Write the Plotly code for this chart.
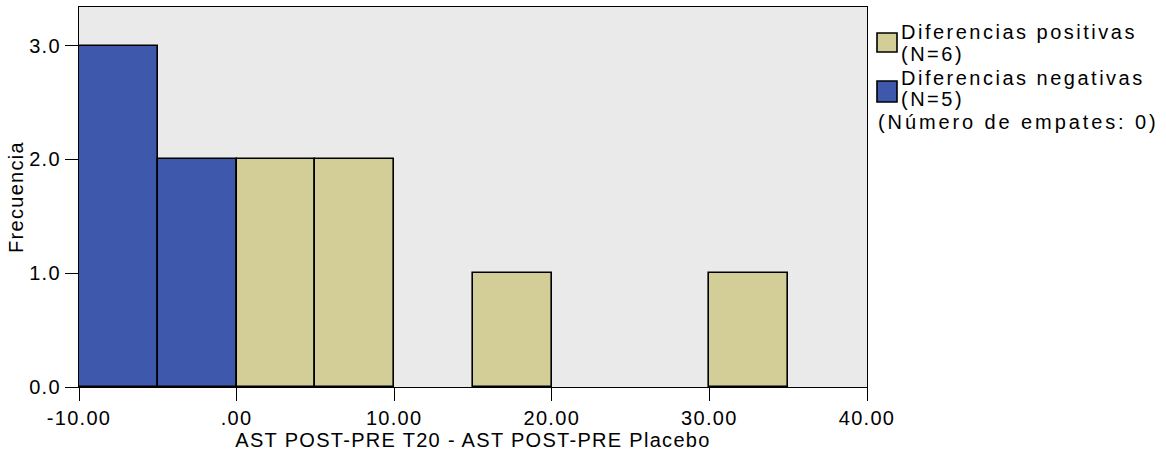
import plotly.graph_objects as go

# ---- data ----
bin_left_neg = [-10, -5]
counts_neg = [3, 2]
bin_left_pos = [0, 5, 15, 30]
counts_pos = [2, 2, 1, 1]
bin_width = 5
x_ticks = [-10, 0, 10, 20, 30, 40]
x_ticktext = ["-10.00", ".00", "10.00", "20.00", "30.00", "40.00"]
y_ticks = [0, 1, 2, 3]
y_ticktext = ["0.0", "1.0", "2.0", "3.0"]
x_title = "AST POST-PRE T20 - AST POST-PRE Placebo"
y_title = "Frecuencia"
legend_pos = ["Diferencias positivas", "(N=6)"]
legend_neg = ["Diferencias negativas", "(N=5)"]
legend_ties = "(Número de empates: 0)"

BLUE = "#3E58AC"
TAN = "#D3CE97"
FONT = "Liberation Sans, Arial, Helvetica, sans-serif"

W, H = 1166, 454
L, R, T, B = 79, 867, 7, 387


def sp(s, ls=1.3):
    return f'<span style="letter-spacing:{ls}px">{s}</span>'


def px_x(p):
    return (p - L) / (R - L)


def px_y(p):
    return (B - p) / (B - T)


fig = go.Figure()
fig.add_trace(go.Bar(
    x=[v + bin_width / 2 for v in bin_left_neg], y=counts_neg, width=bin_width,
    marker=dict(color=BLUE, line=dict(color="black", width=1.6)),
    name="Diferencias negativas", showlegend=False))
fig.add_trace(go.Bar(
    x=[v + bin_width / 2 for v in bin_left_pos], y=counts_pos, width=bin_width,
    marker=dict(color=TAN, line=dict(color="black", width=1.6)),
    name="Diferencias positivas", showlegend=False))

axis_common = dict(showline=True, mirror=True, linecolor="black", linewidth=1.2,
                   ticks="outside", ticklen=13, tickwidth=1.2, tickcolor="black",
                   showgrid=False, zeroline=False,
                   tickfont=dict(family=FONT, size=20, color="black"))

fig.update_xaxes(range=[-10, 40], tickvals=x_ticks,
                 ticktext=[sp(t) for t in x_ticktext],
                 title=dict(text=sp(x_title), font=dict(family=FONT, size=20, color="black"), standoff=1),
                 **axis_common)
fig.update_yaxes(range=[0, 3.34], tickvals=y_ticks,
                 ticktext=[sp(t) for t in y_ticktext],
                 title=dict(text=sp(y_title), font=dict(family=FONT, size=20, color="black"), standoff=0),
                 **axis_common)

shapes = []
for (y0, y1, c) in [(33, 52, TAN), (81, 102, BLUE)]:
    shapes.append(dict(type="rect", xref="paper", yref="paper",
                       x0=px_x(877), x1=px_x(897), y0=px_y(y1), y1=px_y(y0),
                       fillcolor=c, line=dict(color="black", width=1.6)))

ann = []
lines = [(legend_pos[0], 899, 32, 2.5), (legend_pos[1], 899, 54, 2.5),
         (legend_neg[0], 899, 78, 2.5), (legend_neg[1], 899, 99, 2.5),
         (legend_ties, 876, 122, 2.9)]
for txt, x, y, ls in lines:
    ann.append(dict(text=sp(txt, ls), xref="paper", yref="paper", x=px_x(x), y=px_y(y),
                    xanchor="left", yanchor="middle", showarrow=False,
                    font=dict(family=FONT, size=20, color="black")))

fig.update_layout(width=W, height=H, margin=dict(l=L, r=W - R, t=T, b=H - B),
                  plot_bgcolor="#EAEAEA", paper_bgcolor="white",
                  bargap=0, barmode="overlay", shapes=shapes, annotations=ann,
                  font=dict(family=FONT, color="black"))

fig.write_html("out.html", config={"displayModeBar": False},
               post_script="document.body.style.margin='0';document.body.style.padding='0';")
